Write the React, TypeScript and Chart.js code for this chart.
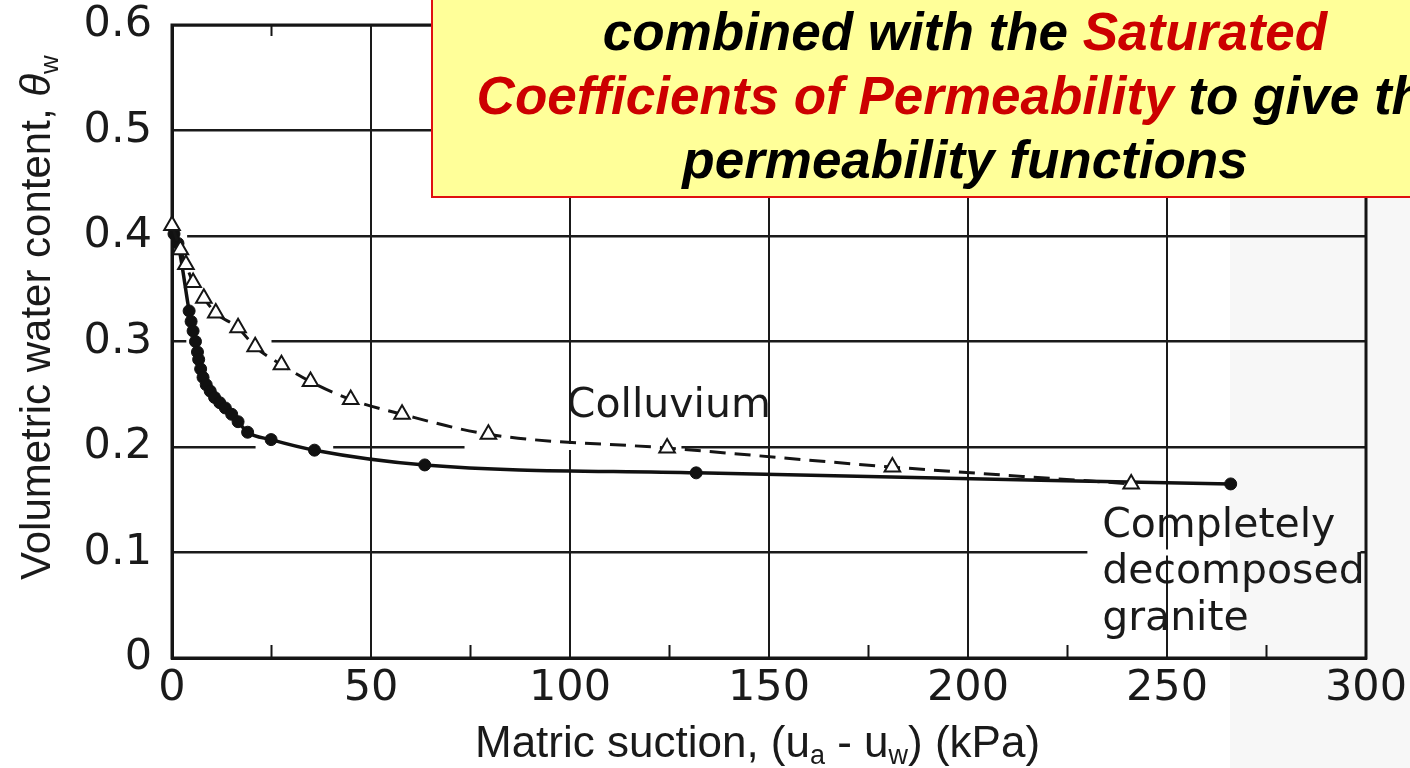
import React, { useEffect, useRef } from 'react';
import { Chart, registerables } from 'chart.js';

Chart.register(...registerables);

// ---- data ----
const colluviumX = [0, 2.1, 3.5, 5.3, 8.0, 11.0, 16.6, 20.9, 27.5, 34.8, 44.9, 57.8, 79.5, 124.4, 181, 241];
const colluviumY = [0.41, 0.387, 0.373, 0.356, 0.341, 0.327, 0.313, 0.295, 0.278, 0.262, 0.245, 0.231, 0.212, 0.199, 0.181, 0.165];

const graniteX = [0.5, 1.5, 4.3, 4.8, 5.3, 5.9, 6.4, 6.7, 7.2, 7.8, 8.6, 9.6, 10.7, 12.0, 13.4, 15.0, 16.6, 19.0, 24.9, 35.8, 63.5, 131.7, 266];
const graniteY = [0.402, 0.393, 0.329, 0.319, 0.31, 0.3, 0.29, 0.283, 0.274, 0.266, 0.259, 0.253, 0.247, 0.242, 0.237, 0.231, 0.224, 0.214, 0.207, 0.197, 0.183, 0.1755, 0.165];

const xTicks = [0, 50, 100, 150, 200, 250, 300];
const xTickLabels = ['0', '50', '100', '150', '200', '250', '300'];
const xMinorTicks = [25, 75, 125, 175, 225, 275];
const yTicks = [0, 0.1, 0.2, 0.3, 0.4, 0.5, 0.6];
const yTickLabels = ['0', '0.1', '0.2', '0.3', '0.4', '0.5', '0.6'];

// gaps in the printed grid lines (value units)
const gapRows = [0.4, 0.3, 0.2, 0.2, 0.1];
const gapFrom = [0.4, 3.6, 21, 73.5, 230];
const gapTo = [3.8, 25, 40.5, 128, 298.6];

const annotationTexts = ['Colluvium', 'Completely', 'decomposed', 'granite'];
const annotationX = [99.2, 233.7, 233.7, 233.7];
const annotationY = [0.2284, 0.1147, 0.0711, 0.0265];

const FONT = "'Liberation Sans', Arial, Helvetica, sans-serif";
const WIDE = "'DejaVu Sans', 'Liberation Sans', Arial, sans-serif";

type Seg = { text: string; font: string; color?: string; dy?: number };

function drawRich(ctx: CanvasRenderingContext2D, segs: Seg[], x: number, y: number) {
  let cx = x;
  for (const s of segs) {
    ctx.font = s.font;
    ctx.fillStyle = s.color || '#1a1a1a';
    ctx.fillText(s.text, cx, y + (s.dy || 0));
    cx += ctx.measureText(s.text).width;
  }
}

function richWidth(ctx: CanvasRenderingContext2D, segs: Seg[]) {
  let w = 0;
  for (const s of segs) {
    ctx.font = s.font;
    w += ctx.measureText(s.text).width;
  }
  return w;
}

const overlayPlugin = {
  id: 'overlay',
  beforeDraw(chart: any) {
    const ctx = chart.ctx as CanvasRenderingContext2D;
    ctx.save();
    ctx.fillStyle = '#ffffff';
    ctx.fillRect(0, 0, chart.width, chart.height);
    ctx.restore();
  },
  beforeDatasetsDraw(chart: any) {
    const ctx = chart.ctx as CanvasRenderingContext2D;
    const xs = chart.scales.x;
    const ys = chart.scales.y;
    const a = chart.chartArea;
    ctx.save();
    // grid gaps
    ctx.fillStyle = '#ffffff';
    for (let i = 0; i < gapRows.length; i++) {
      const py = ys.getPixelForValue(gapRows[i]);
      const p0 = xs.getPixelForValue(gapFrom[i]);
      const p1 = xs.getPixelForValue(gapTo[i]);
      ctx.fillRect(p0, py - 3, p1 - p0, 6);
    }
    // faint scan shading on the right
    ctx.fillStyle = 'rgba(0,0,0,0.03)';
    ctx.fillRect(1230, 197, chart.width - 1230, chart.height - 197);
    // frame
    ctx.strokeStyle = '#151515';
    ctx.lineWidth = 3;
    ctx.strokeRect(a.left, a.top, a.right - a.left, a.bottom - a.top);
    // minor ticks
    ctx.lineWidth = 2;
    for (const v of xMinorTicks) {
      const px = xs.getPixelForValue(v);
      ctx.beginPath();
      ctx.moveTo(px, a.bottom);
      ctx.lineTo(px, a.bottom - 13);
      ctx.moveTo(px, a.top);
      ctx.lineTo(px, a.top + 11);
      ctx.stroke();
    }
    ctx.restore();
  },
  afterDraw(chart: any) {
    const ctx = chart.ctx as CanvasRenderingContext2D;
    const xs = chart.scales.x;
    const ys = chart.scales.y;
    ctx.save();
    ctx.textBaseline = 'alphabetic';
    ctx.textAlign = 'left';

    // annotations
    for (let i = 0; i < annotationTexts.length; i++) {
      ctx.font = `41px ${WIDE}`;
      ctx.fillStyle = '#1a1a1a';
      ctx.fillText(annotationTexts[i], xs.getPixelForValue(annotationX[i]), ys.getPixelForValue(annotationY[i]));
    }

    // x title
    drawRich(
      ctx,
      [
        { text: 'Matric suction, (u', font: `44px ${FONT}` },
        { text: 'a', font: `27px ${FONT}`, dy: 7 },
        { text: ' - u', font: `44px ${FONT}` },
        { text: 'w', font: `27px ${FONT}`, dy: 7 },
        { text: ') (kPa)', font: `44px ${FONT}` },
      ],
      475,
      757
    );

    // y title
    ctx.save();
    ctx.translate(50, 580);
    ctx.rotate(-Math.PI / 2);
    drawRich(
      ctx,
      [
        { text: 'Volumetric water content, ', font: `42px ${FONT}` },
        { text: 'θ', font: `italic 42px ${FONT}` },
        { text: 'w', font: `26px ${FONT}`, dy: 8 },
      ],
      0,
      0
    );
    ctx.restore();

    // yellow callout box
    ctx.fillStyle = '#ffff99';
    ctx.fillRect(432, -10, 1100, 207);
    ctx.strokeStyle = '#e01010';
    ctx.lineWidth = 2;
    ctx.strokeRect(432, -10, 1100, 207);

    const bf = `italic bold 53px ${FONT}`;
    const red = '#cc0000';
    const black = '#000000';
    const lines: Seg[][] = [
      [
        { text: 'combined with the ', font: bf, color: black },
        { text: 'Saturated', font: bf, color: red },
      ],
      [
        { text: 'Coefficients of Permeability', font: bf, color: red },
        { text: ' to give the', font: bf, color: black },
      ],
      [{ text: 'permeability functions', font: bf, color: black }],
    ];
    const baselines = [50, 114, 178];
    for (let i = 0; i < lines.length; i++) {
      const w = richWidth(ctx, lines[i]);
      drawRich(ctx, lines[i], 965 - w / 2, baselines[i]);
    }
    ctx.restore();
  },
};

export default function App() {
  const ref = useRef<HTMLCanvasElement | null>(null);

  useEffect(() => {
    if (!ref.current) return;
    const chart = new Chart(ref.current, {
      type: 'line',
      data: {
        datasets: [
          {
            label: 'Colluvium',
            data: colluviumX.map((x, i) => ({ x, y: colluviumY[i] })),
            borderColor: '#151515',
            borderWidth: 3,
            borderDash: [16, 9],
            pointStyle: 'triangle',
            pointRadius: 9,
            pointBackgroundColor: '#ffffff',
            pointBorderColor: '#151515',
            pointBorderWidth: 2,
            cubicInterpolationMode: 'monotone',
            clip: false,
            order: 0,
          } as any,
          {
            label: 'Completely decomposed granite',
            data: graniteX.map((x, i) => ({ x, y: graniteY[i] })),
            borderColor: '#111111',
            borderWidth: 3.5,
            pointStyle: 'circle',
            pointRadius: 6,
            pointBackgroundColor: '#111111',
            pointBorderColor: '#111111',
            pointBorderWidth: 1,
            cubicInterpolationMode: 'monotone',
            clip: false,
            order: 1,
          } as any,
        ],
      },
      options: {
        animation: false,
        responsive: false,
        layout: { padding: { top: 25, right: 44, left: 0, bottom: 0 } },
        plugins: { legend: { display: false }, tooltip: { enabled: false } },
        scales: {
          x: {
            type: 'linear',
            min: 0,
            max: 300,
            afterBuildTicks: (s: any) => {
              s.ticks = xTicks.map((v) => ({ value: v }));
            },
            afterFit: (s: any) => {
              s.height = 110;
              s.paddingLeft = 0;
              s.paddingRight = 0;
            },
            ticks: {
              callback: (_v: any, i: number) => xTickLabels[i],
              font: { family: WIDE, size: 43 },
              color: '#1a1a1a',
              padding: 5,
              maxRotation: 0,
              autoSkip: false,
            },
            grid: { color: '#1a1a1a', lineWidth: 2, tickLength: 0 },
            border: { display: true, color: '#151515', width: 3 },
          },
          y: {
            type: 'linear',
            min: 0,
            max: 0.6,
            afterBuildTicks: (s: any) => {
              s.ticks = yTicks.map((v) => ({ value: v }));
            },
            afterFit: (s: any) => {
              s.width = 172;
              s.paddingTop = 0;
              s.paddingBottom = 0;
            },
            ticks: {
              callback: (_v: any, i: number) => yTickLabels[i],
              font: { family: WIDE, size: 43 },
              color: '#1a1a1a',
              padding: 20,
              autoSkip: false,
            },
            grid: { color: '#1a1a1a', lineWidth: 2.5, tickLength: 0 },
            border: { display: true, color: '#151515', width: 3 },
          },
        },
      } as any,
      plugins: [overlayPlugin],
    });
    return () => chart.destroy();
  }, []);

  return (
    <div style={{ position: 'absolute', left: 0, top: 0, width: 1410, height: 768, background: '#fff' }}>
      <canvas ref={ref} width={1410} height={768} style={{ display: 'block' }} />
    </div>
  );
}
